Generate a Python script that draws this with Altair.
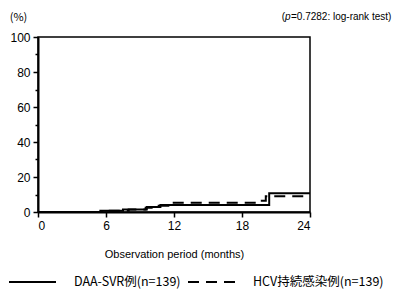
import altair as alt
import pandas as pd

# ---- data ----
series_names = ["DAA-SVR例(n=139)", "HCV持続感染例(n=139)"]
daa_months = [0, 5.5, 7.5, 9.6, 10.8, 20.4, 24]
daa_pct = [0, 0.7, 1.4, 2.9, 4.0, 10.7, 10.7]
hcv_months = [0, 6.0, 8.0, 9.5, 10.5, 11.5, 19.3, 20.1, 24]
hcv_pct = [0, 0.7, 1.5, 2.5, 3.6, 5.3, 6.4, 9.0, 9.0]
x_ticks = [0, 6, 12, 18, 24]
y_ticks = [0, 10, 20, 30, 40, 50, 60, 70, 80, 90, 100]
note_parts = ["(", "p", "=0.7282: log-rank test)"]

rows = []
for m, v in zip(daa_months, daa_pct):
    rows.append({"month": m, "pct": v, "series": series_names[0]})
for m, v in zip(hcv_months, hcv_pct):
    rows.append({"month": m, "pct": v, "series": series_names[1]})
df = pd.DataFrame(rows)

lines = alt.Chart(df).mark_line(
    interpolate="step-after", strokeWidth=2, color="black"
).encode(
    x=alt.X(
        "month:Q",
        scale=alt.Scale(domain=[0, 24], nice=False),
        axis=alt.Axis(
            values=x_ticks,
            title="Observation period (months)",
            titleFont="Liberation Sans",
            titleFontSize=11,
            titleFontWeight="normal",
            titleY=36,
            labelFontSize=12,
            labelPadding=3,
            tickSize=5,
            grid=False,
        ),
    ),
    y=alt.Y(
        "pct:Q",
        scale=alt.Scale(domain=[0, 100], nice=False),
        axis=alt.Axis(
            values=y_ticks,
            labelExpr="datum.value % 20 == 0 ? datum.label : ''",
            tickSize={"condition": {"test": "datum.value % 20 != 0", "value": 3}, "value": 5},
            title="(%)",
            titleAngle=0,
            titleAlign="center",
            titleBaseline="middle",
            titleX=-20,
            titleY=-20,
            titleFont="Noto Sans CJK JP",
            titleFontSize=11,
            titleFontWeight="normal",
            labelFontSize=12,
            labelPadding=3,
            grid=False,
        ),
    ),
    strokeDash=alt.StrokeDash(
        "series:N",
        scale=alt.Scale(domain=series_names, range=[[1, 0], [11, 7]]),
        legend=alt.Legend(
            orient="none",
            direction="horizontal",
            legendX=-30,
            legendY=220.5,
            title=None,
            symbolType="stroke",
            symbolSize=2209,
            symbolStrokeWidth=2,
            symbolStrokeColor="black",
            labelFont="Noto Sans CJK JP",
            labelFontSize=12.5,
            labelColor="black",
            labelOffset=17,
            labelLimit=300,
            columnPadding=3,
            padding=0,
        ),
    ),
)

note_df = pd.DataFrame({"t": note_parts})
open_paren = alt.Chart(note_df.iloc[[0]]).mark_text(
    align="right", baseline="middle", font="Liberation Sans", fontSize=10, color="black"
).encode(text="t:N", x=alt.value(247), y=alt.value(-20))
p_txt = alt.Chart(note_df.iloc[[1]]).mark_text(
    align="left", baseline="middle", font="Liberation Sans", fontSize=10,
    fontStyle="italic", color="black"
).encode(text="t:N", x=alt.value(247), y=alt.value(-20))
rest_txt = alt.Chart(note_df.iloc[[2]]).mark_text(
    align="left", baseline="middle", font="Liberation Sans", fontSize=10, color="black"
).encode(text="t:N", x=alt.value(253), y=alt.value(-20))

chart = alt.layer(lines, open_paren, p_txt, rest_txt).properties(
    width=272,
    height=175,
    autosize="none",
    padding={"left": 30, "top": 29, "right": 88, "bottom": 80},
).configure_view(
    stroke="black", strokeWidth=1.5
).configure_axis(
    domainColor="black",
    domainWidth=2,
    tickColor="black",
    tickWidth=1.5,
    labelColor="black",
    titleColor="black",
    labelFont="Liberation Sans",
)

chart.save("out.html", embed_options={"renderer": "svg", "actions": False})
